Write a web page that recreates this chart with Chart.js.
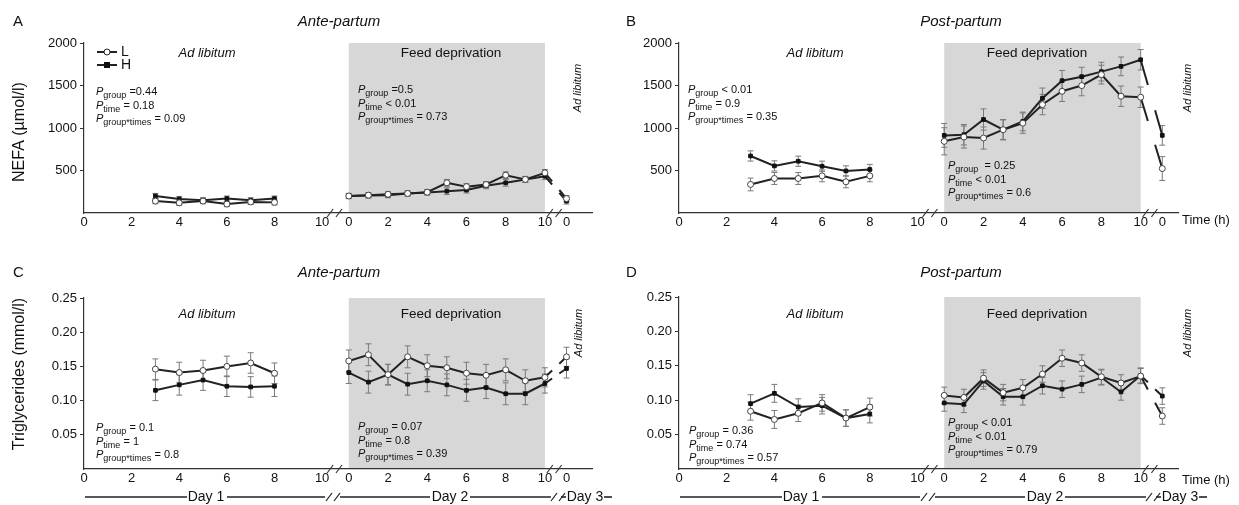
<!DOCTYPE html>
<html>
<head>
<meta charset="utf-8">
<script src="https://cdn.jsdelivr.net/npm/chart.js@4.4.1/dist/chart.umd.min.js"></script>
<style>
  body { margin: 0; background: #fff; width: 1239px; height: 505px; position: relative; overflow: hidden; }
  canvas { position: absolute; }
</style>
</head>
<body>
<canvas id="cA" width="625" height="250" style="left:0;top:0"></canvas>
<canvas id="cB" width="644" height="250" style="left:595px;top:0"></canvas>
<canvas id="cC" width="625" height="255" style="left:0;top:250px"></canvas>
<canvas id="cD" width="644" height="255" style="left:595px;top:250px"></canvas>
<script>
const FONT = '"Liberation Sans", Arial, Helvetica, sans-serif';

// sampling hours
const day1Hours = [3, 4, 5, 6, 7, 8];
const day2Hours = [0, 1, 2, 3, 4, 5, 6, 7, 8, 9, 10];
const tickHours = [0, 2, 4, 6, 8, 10];

// A - NEFA ante-partum (umol/l)
const nefaAnteL1 = [140, 120, 140, 105, 130, 125];
const nefaAnteH1 = [200, 165, 150, 170, 150, 170];
const nefaAnteL2 = [200, 210, 220, 230, 245, 355, 310, 335, 445, 395, 472];
const nefaAnteH2 = [200, 205, 210, 230, 240, 257, 270, 320, 355, 395, 433];
const nefaAnteL3 = [170];
const nefaAnteH3 = [140];
const nefaAnteErr1 = [30, 30, 30, 30, 30, 30];
const nefaAnteErr2 = [30, 30, 30, 30, 30, 40, 35, 35, 40, 35, 40];
const nefaAnteErr3 = [35];

// B - NEFA post-partum (umol/l)
const nefaPostL1 = [336, 406, 406, 437, 367, 437];
const nefaPostH1 = [671, 554, 609, 550, 495, 512];
const nefaPostL2 = [843, 894, 882, 980, 1057, 1276, 1432, 1499, 1628, 1374, 1362];
const nefaPostH2 = [913, 921, 1100, 980, 1077, 1350, 1557, 1604, 1663, 1725, 1803];
const nefaPostL3 = [523];
const nefaPostH3 = [913];
const nefaPostErrL1 = [75, 70, 70, 70, 70, 70];
const nefaPostErrH1 = [60, 60, 60, 60, 60, 60];
const nefaPostErrL2 = [160, 130, 130, 120, 120, 120, 120, 120, 110, 120, 120];
const nefaPostErrH2 = [140, 120, 125, 115, 110, 120, 120, 110, 110, 110, 120];
const nefaPostErrL3 = [140];
const nefaPostErrH3 = [115];

// C - triglycerides ante-partum (mmol/l)
const tgAnteL1 = [0.146, 0.141, 0.144, 0.150, 0.155, 0.140];
const tgAnteH1 = [0.115, 0.123, 0.130, 0.121, 0.120, 0.121];
const tgAnteL2 = [0.158, 0.167, 0.138, 0.164, 0.151, 0.148, 0.140, 0.137, 0.145, 0.129, 0.134];
const tgAnteH2 = [0.141, 0.127, 0.138, 0.124, 0.129, 0.123, 0.115, 0.119, 0.110, 0.110, 0.125];
const tgAnteL3 = [0.164];
const tgAnteH3 = [0.147];
const tgAnteErr1 = [0.015, 0.015, 0.015, 0.015, 0.015, 0.015];
const tgAnteErr2 = [0.016, 0.016, 0.015, 0.016, 0.016, 0.016, 0.016, 0.016, 0.016, 0.016, 0.014];
const tgAnteErr3 = [0.014];

// D - triglycerides post-partum (mmol/l)
const tgPostL1 = [0.084, 0.072, 0.081, 0.096, 0.074, 0.090];
const tgPostH1 = [0.095, 0.110, 0.090, 0.092, 0.074, 0.080];
const tgPostL2 = [0.107, 0.104, 0.132, 0.111, 0.118, 0.138, 0.161, 0.154, 0.134, 0.125, 0.135];
const tgPostH2 = [0.096, 0.094, 0.128, 0.105, 0.105, 0.121, 0.116, 0.123, 0.133, 0.112, 0.136];
const tgPostL3 = [0.077];
const tgPostH3 = [0.106];
const tgPostErr1 = [0.013, 0.013, 0.012, 0.012, 0.012, 0.013];
const tgPostErr2 = [0.012, 0.012, 0.012, 0.012, 0.012, 0.012, 0.012, 0.012, 0.011, 0.012, 0.011];
const tgPostErr3 = [0.012];

// axis layout: day 1 hours are drawn a bit wider than day 2 hours
const D1_STRETCH = 1.214;
const D2_START = 13.5;
const D3_POS = 24.6;
function pos(day, h) {
  if (day === 1) return h * D1_STRETCH;
  if (day === 2) return D2_START + h;
  return D3_POS;
}

function xTicks(day3Label) {
  const t = [];
  tickHours.forEach(h => t.push({ pos: pos(1, h), label: String(h) }));
  tickHours.forEach(h => t.push({ pos: pos(2, h), label: String(h) }));
  t.push({ pos: D3_POS, label: day3Label });
  return t;
}

function series(v1, v2, v3, e1, e2, e3) {
  const pts = [], errs = [];
  day1Hours.forEach((h, i) => { pts.push({ x: pos(1, h), y: v1[i] }); errs.push(e1[i]); });
  pts.push({ x: 12.8, y: null }); errs.push(0);
  day2Hours.forEach((h, i) => { pts.push({ x: pos(2, h), y: v2[i] }); errs.push(e2[i]); });
  pts.push({ x: D3_POS, y: v3[0] }); errs.push(e3[0]);
  return { pts, errs };
}

// broken connector between day 2 and day 3
function lastDash(n) {
  return c => {
    if (c.p1DataIndex !== n - 1) return undefined;
    const d = Math.hypot(c.p1.x - c.p0.x, c.p1.y - c.p0.y) / 3;
    return [d, d];
  };
}

const shade = {
  id: 'shade',
  beforeDraw(chart) {
    const { ctx, chartArea } = chart;
    const x = chart.scales.x;
    const x0 = x.getPixelForValue(pos(2, 0)), x1 = x.getPixelForValue(pos(2, 10));
    ctx.save();
    ctx.fillStyle = '#d7d7d7';
    ctx.fillRect(x0, chartArea.top, x1 - x0, chartArea.bottom - chartArea.top);
    ctx.restore();
  }
};

const errorBars = {
  id: 'errorBars',
  beforeDatasetsDraw(chart) {
    const { ctx } = chart;
    const y = chart.scales.y;
    chart.data.datasets.forEach((ds, di) => {
      const meta = chart.getDatasetMeta(di);
      ctx.save();
      ctx.strokeStyle = '#7a7a7a';
      ctx.lineWidth = 1;
      meta.data.forEach((pt, i) => {
        const v = ds.data[i].y, e = ds.errs[i];
        if (v == null || !e) return;
        const top = y.getPixelForValue(v + e), bot = y.getPixelForValue(v - e);
        ctx.beginPath();
        ctx.moveTo(pt.x, top); ctx.lineTo(pt.x, bot);
        ctx.moveTo(pt.x - 3, top); ctx.lineTo(pt.x + 3, top);
        ctx.moveTo(pt.x - 3, bot); ctx.lineTo(pt.x + 3, bot);
        ctx.stroke();
      });
      ctx.restore();
    });
  }
};

function drawP(ctx, x, y, sub, rest) {
  ctx.textBaseline = 'middle';
  ctx.textAlign = 'left';
  ctx.font = 'italic 11px ' + FONT;
  ctx.fillText('P', x, y);
  let w = ctx.measureText('P').width;
  ctx.font = '9px ' + FONT;
  ctx.fillText(sub, x + w, y + 4);
  w += ctx.measureText(sub).width;
  ctx.font = '11px ' + FONT;
  ctx.fillText(rest, x + w, y);
}

function slash(ctx, x, y) {
  ctx.beginPath();
  ctx.moveTo(x - 3, y + 4);
  ctx.lineTo(x + 3, y - 4);
  ctx.stroke();
}

const notes = {
  id: 'notes',
  afterDraw(chart, args, o) {
    const { ctx, chartArea } = chart;
    const x = chart.scales.x;
    ctx.save();
    ctx.fillStyle = '#111';
    ctx.textBaseline = 'middle';
    ctx.textAlign = 'left';
    ctx.font = '15px ' + FONT;
    ctx.fillText(o.letter[0], o.letter[1], o.letter[2]);
    ctx.textAlign = 'center';
    ctx.font = 'italic 15px ' + FONT;
    ctx.fillText(o.title[0], o.title[1], o.title[2]);
    ctx.font = 'italic 13px ' + FONT;
    ctx.fillText('Ad libitum', o.adlib[0], o.adlib[1]);
    ctx.font = '13.5px ' + FONT;
    ctx.fillText('Feed deprivation', o.feed[0], o.feed[1]);
    ctx.save();
    ctx.translate(o.vert[0], o.vert[1]);
    ctx.rotate(-Math.PI / 2);
    ctx.font = 'italic 11px ' + FONT;
    ctx.fillText('Ad libitum', 0, 0);
    ctx.restore();
    if (o.yTitle) {
      ctx.save();
      ctx.translate(o.yTitle[1], o.yTitle[2]);
      ctx.rotate(-Math.PI / 2);
      ctx.font = '16px ' + FONT;
      ctx.fillText(o.yTitle[0], 0, 0);
      ctx.restore();
    }
    if (o.time) {
      ctx.textAlign = 'left';
      ctx.font = '13px ' + FONT;
      ctx.fillText('Time (h)', o.time[0], o.time[1]);
    }
    o.pBlocks.forEach(b => {
      b.lines.forEach((l, i) => drawP(ctx, b.x, b.y + i * 13.5, l[0], l[1]));
    });

    // axis breaks
    ctx.strokeStyle = '#333';
    ctx.lineWidth = 1.2;
    const ay = chartArea.bottom;
    [12.55, 13.0, 23.75, 24.2].forEach(u => slash(ctx, x.getPixelForValue(u), ay));

    if (o.legend) {
      [['L', 52, false], ['H', 65, true]].forEach(([t, ly, filled]) => {
        ctx.strokeStyle = '#222';
        ctx.lineWidth = 2;
        ctx.beginPath(); ctx.moveTo(97, ly); ctx.lineTo(117, ly); ctx.stroke();
        ctx.lineWidth = 1;
        if (filled) {
          ctx.fillStyle = '#111';
          ctx.fillRect(104, ly - 3, 6, 6);
        } else {
          ctx.fillStyle = '#fff';
          ctx.beginPath(); ctx.arc(107, ly, 3, 0, Math.PI * 2); ctx.fill(); ctx.stroke();
        }
        ctx.fillStyle = '#111';
        ctx.textAlign = 'left';
        ctx.font = '14px ' + FONT;
        ctx.fillText(t, 121, ly);
      });
    }

    if (o.dayLine) {
      const ly = 247;
      ctx.strokeStyle = '#222';
      ctx.lineWidth = 1.6;
      [[85, 187], [227, 325], [340, 430], [470, 551], [561, 566], [604, 612]].forEach(([a, b]) => {
        ctx.beginPath(); ctx.moveTo(a, ly); ctx.lineTo(b, ly); ctx.stroke();
      });
      ctx.lineWidth = 1.2;
      [329, 337, 554, 562].forEach(sx => slash(ctx, sx, ly));
      ctx.fillStyle = '#111';
      ctx.textAlign = 'center';
      ctx.font = '14px ' + FONT;
      ctx.fillText('Day 1', 206, ly);
      ctx.fillText('Day 2', 450, ly);
      ctx.fillText('Day 3', 585, ly);
    }
    ctx.restore();
  }
};

function makeChart(id, cfg) {
  const n = cfg.L.pts.length;
  const common = {
    borderColor: '#222',
    borderWidth: 2,
    pointRadius: 3,
    pointBorderWidth: 1,
    spanGaps: false,
    tension: 0,
    segment: { borderDash: lastDash(n) }
  };
  return new Chart(document.getElementById(id), {
    type: 'line',
    data: {
      datasets: [
        Object.assign({ label: 'L', data: cfg.L.pts, errs: cfg.L.errs, pointStyle: 'circle',
          pointBackgroundColor: '#fff', pointBorderColor: '#444' }, common),
        Object.assign({ label: 'H', data: cfg.H.pts, errs: cfg.H.errs, pointStyle: 'rect',
          pointBackgroundColor: '#111', pointBorderColor: '#111', pointRadius: 2.6 }, common, { pointRadius: 2.6 })
      ]
    },
    options: {
      responsive: false,
      animation: false,
      layout: { padding: { left: 0, right: cfg.padRight, top: cfg.top, bottom: 0 } },
      plugins: { legend: { display: false }, tooltip: { enabled: false }, notes: cfg.notes },
      scales: {
        x: {
          type: 'linear', min: 0, max: cfg.xMax,
          afterBuildTicks: s => { s.ticks = cfg.ticks.map(t => ({ value: t.pos })); },
          afterFit: s => { s.height = cfg.xHeight; },
          ticks: {
            autoSkip: false, maxRotation: 0, padding: 2, color: '#111',
            font: { family: FONT, size: 13 },
            callback: (v, i) => cfg.ticks[i].label
          },
          grid: { display: false, drawTicks: false },
          border: { display: true, color: '#333', width: 1.2 }
        },
        y: {
          min: 0, max: cfg.yMax,
          afterBuildTicks: s => { s.ticks = cfg.yTicks.map(v => ({ value: v })); },
          afterFit: s => { s.width = 84; },
          ticks: {
            padding: 3, color: '#111',
            font: { family: FONT, size: 13 },
            callback: cfg.yFmt
          },
          grid: { display: true, drawOnChartArea: false, drawTicks: true, tickLength: 4, color: '#333' },
          border: { display: true, color: '#333', width: 1.2 }
        }
      }
    },
    plugins: [shade, errorBars, notes]
  });
}

const nefaTicks = [500, 1000, 1500, 2000];
const tgTicks = [0.05, 0.10, 0.15, 0.20, 0.25];

makeChart('cA', {
  L: series(nefaAnteL1, nefaAnteL2, nefaAnteL3, nefaAnteErr1, nefaAnteErr2, nefaAnteErr3),
  H: series(nefaAnteH1, nefaAnteH2, nefaAnteH3, nefaAnteErr1, nefaAnteErr2, nefaAnteErr3),
  padRight: 33, top: 43, xHeight: 37, xMax: 25.9, yMax: 2000,
  ticks: xTicks('0'), yTicks: nefaTicks, yFmt: v => String(v),
  notes: {
    letter: ['A', 13, 22], title: ['Ante-partum', 339, 22],
    adlib: [207, 53], feed: [451, 53], vert: [578, 88],
    yTitle: ['NEFA (\u00b5mol/l)', 20, 132], time: null, legend: true, dayLine: false,
    pBlocks: [
      { x: 96, y: 92, lines: [['group', ' =0.44'], ['time', ' = 0.18'], ['group*times', ' = 0.09']] },
      { x: 358, y: 90, lines: [['group', ' =0.5'], ['time', ' < 0.01'], ['group*times', ' = 0.73']] }
    ]
  }
});

makeChart('cB', {
  L: series(nefaPostL1, nefaPostL2, nefaPostL3, nefaPostErrL1, nefaPostErrL2, nefaPostErrL3),
  H: series(nefaPostH1, nefaPostH2, nefaPostH3, nefaPostErrH1, nefaPostErrH2, nefaPostErrH3),
  padRight: 61, top: 43, xHeight: 37, xMax: 25.4, yMax: 2000,
  ticks: xTicks('0'), yTicks: nefaTicks, yFmt: v => String(v),
  notes: {
    letter: ['B', 31, 22], title: ['Post-partum', 366, 22],
    adlib: [220, 53], feed: [442, 53], vert: [593, 88],
    yTitle: null, time: [587, 220], legend: false, dayLine: false,
    pBlocks: [
      { x: 93, y: 90, lines: [['group', ' < 0.01'], ['time', ' = 0.9'], ['group*times', ' = 0.35']] },
      { x: 353, y: 166, lines: [['group', '  = 0.25'], ['time', ' < 0.01'], ['group*times', ' = 0.6']] }
    ]
  }
});

makeChart('cC', {
  L: series(tgAnteL1, tgAnteL2, tgAnteL3, tgAnteErr1, tgAnteErr2, tgAnteErr3),
  H: series(tgAnteH1, tgAnteH2, tgAnteH3, tgAnteErr1, tgAnteErr2, tgAnteErr3),
  padRight: 33, top: 48, xHeight: 36, xMax: 25.9, yMax: 0.25,
  ticks: xTicks('0'), yTicks: tgTicks, yFmt: v => v.toFixed(2),
  notes: {
    letter: ['C', 13, 23], title: ['Ante-partum', 339, 23],
    adlib: [207, 64], feed: [451, 64], vert: [579, 83],
    yTitle: ['Triglycerides (mmol/l)', 20, 124], time: null, legend: false, dayLine: true,
    pBlocks: [
      { x: 96, y: 178, lines: [['group', ' = 0.1'], ['time', ' = 1'], ['group*times', ' = 0.8']] },
      { x: 358, y: 177, lines: [['group', ' = 0.07'], ['time', ' = 0.8'], ['group*times', ' = 0.39']] }
    ]
  }
});

makeChart('cD', {
  L: series(tgPostL1, tgPostL2, tgPostL3, tgPostErr1, tgPostErr2, tgPostErr3),
  H: series(tgPostH1, tgPostH2, tgPostH3, tgPostErr1, tgPostErr2, tgPostErr3),
  padRight: 61, top: 47, xHeight: 36, xMax: 25.4, yMax: 0.25,
  ticks: xTicks('8'), yTicks: tgTicks, yFmt: v => v.toFixed(2),
  notes: {
    letter: ['D', 31, 23], title: ['Post-partum', 366, 23],
    adlib: [220, 64], feed: [442, 64], vert: [593, 83],
    yTitle: null, time: [587, 230], legend: false, dayLine: true,
    pBlocks: [
      { x: 94, y: 181, lines: [['group', ' = 0.36'], ['time', ' = 0.74'], ['group*times', ' = 0.57']] },
      { x: 353, y: 173, lines: [['group', ' < 0.01'], ['time', ' < 0.01'], ['group*times', ' = 0.79']] }
    ]
  }
});
</script>
</body>
</html>
